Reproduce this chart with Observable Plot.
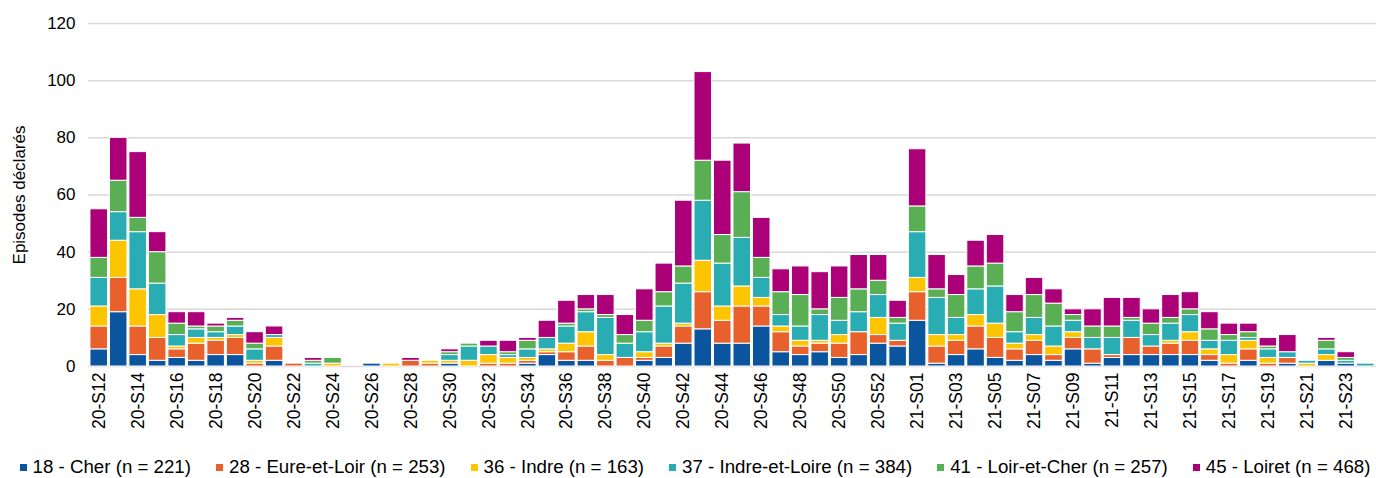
<!DOCTYPE html>
<html><head><meta charset="utf-8">
<script src="https://cdn.jsdelivr.net/npm/d3@7"></script>
<script src="https://cdn.jsdelivr.net/npm/@observablehq/plot@0.6"></script>
<style>
body{margin:0;background:#fff;font-family:"Liberation Sans",Arial,sans-serif;color:#000;overflow:hidden;}
#legend{display:flex;justify-content:center;align-items:center;height:38px;margin-top:8px;font-size:18.7px;white-space:nowrap;padding-left:14px;}
#legend .item{display:flex;align-items:center;margin:0 12.5px;}
#legend .sw{width:7px;height:7px;margin-right:6px;}
</style></head><body><div id="chart"></div><div id="legend"></div>
<script>
const weeks = ["20-S12","20-S13","20-S14","20-S15","20-S16","20-S17","20-S18","20-S19","20-S20","20-S21","20-S22","20-S23","20-S24","20-S25","20-S26","20-S27","20-S28","20-S29","20-S30","20-S31","20-S32","20-S33","20-S34","20-S35","20-S36","20-S37","20-S38","20-S39","20-S40","20-S41","20-S42","20-S43","20-S44","20-S45","20-S46","20-S47","20-S48","20-S49","20-S50","20-S51","20-S52","20-S53","21-S01","21-S02","21-S03","21-S04","21-S05","21-S06","21-S07","21-S08","21-S09","21-S10","21-S11","21-S12","21-S13","21-S14","21-S15","21-S16","21-S17","21-S18","21-S19","21-S20","21-S21","21-S22","21-S23","21-S24"];
const cher   = [6,19,4,2,3,2,4,4,0,2, 0,0,0,0,1,0,0,0,1,0, 0,0,1,4,2,2,0,0,2,3, 8,13,8,8,14,5,4,5,3,4, 8,7,16,1,4,6,3,2,4,2, 6,1,3,4,4,4,4,2,0,2, 0,1,0,2,1,0];
const eure   = [8,12,10,8,3,6,5,6,1,5, 1,0,0,0,0,0,2,1,0,0, 1,1,1,1,3,5,2,3,1,4, 6,13,8,13,7,7,3,3,5,8, 3,2,10,6,5,8,7,4,5,2, 4,5,1,6,3,4,5,2,1,4, 1,2,0,0,0,0];
const indre  = [7,13,13,8,1,2,1,1,1,3, 0,0,1,0,0,1,0,1,1,2, 3,2,1,1,3,5,2,0,2,1, 1,11,5,7,3,2,2,1,3,0, 6,0,5,4,2,4,5,2,2,3, 2,0,0,0,0,1,3,2,3,3, 2,0,1,2,0,0];
const ieloire= [10,10,20,11,4,3,2,3,4,1, 0,1,0,0,0,0,0,0,2,5, 3,1,3,4,6,7,13,5,7,13, 14,21,15,17,7,4,5,9,5,7, 8,6,16,13,6,9,13,4,6,7, 4,4,6,6,4,6,6,3,5,1, 3,2,1,2,1,1];
const lcher  = [7,11,5,11,4,1,2,2,2,0, 0,1,2,0,0,0,0,0,1,1, 0,1,3,0,1,1,1,3,4,5, 6,14,10,16,7,8,11,2,8,8, 5,2,9,3,8,8,8,7,8,8, 2,4,4,1,4,2,2,4,2,2, 1,0,0,3,1,0];
const loiret = [17,15,23,7,4,5,1,1,4,3, 0,1,0,0,0,0,1,0,1,0, 2,4,1,6,8,5,7,7,11,10, 23,31,26,17,14,8,10,13,11,12, 9,6,20,12,7,9,10,6,6,5, 2,6,10,7,5,8,6,6,4,3, 3,6,0,1,2,0];
const seriesNames = ["18 - Cher (n = 221)","28 - Eure-et-Loir (n = 253)","36 - Indre (n = 163)","37 - Indre-et-Loire (n = 384)","41 - Loir-et-Cher (n = 257)","45 - Loiret (n = 468)"];
const seriesColors = ["#0b559f","#e8612c","#fdc500","#2aacb3","#5aae53","#ab0077"];
const yTicks = [0,20,40,60,80,100,120];

const seriesValues = [cher, eure, indre, ieloire, lcher, loiret];
const data = [];
seriesValues.forEach((vals, s) => vals.forEach((v, i) => {
  if (v > 0) data.push({week: weeks[i], value: v, dept: seriesNames[s]});
}));

const plot = Plot.plot({
  width: 1376, height: 440,
  marginLeft: 88, marginRight: 0, marginTop: 23, marginBottom: 74,
  style: {fontFamily: "'Liberation Sans', Arial, sans-serif", fontSize: "17px", color: "#000", background: "white"},
  x: {type: "band", domain: weeks, padding: 0.1, label: null},
  y: {domain: [0, 120], label: null},
  color: {domain: seriesNames, range: seriesColors},
  marks: [
    Plot.ruleY(yTicks, {stroke: "#d9d9d9", strokeWidth: 1.5}),
    Plot.barY(data, {x: "week", y: "value", fill: "dept", stroke: "white", strokeWidth: 1}),
    Plot.axisX({ticks: weeks.filter((d, i) => i % 2 === 0), tickSize: 0, tickPadding: 6, tickRotate: -90, fontSize: 17.5, label: null}),
    Plot.axisY({ticks: yTicks, tickSize: 0, tickPadding: 13, fontSize: 17, label: "Episodes déclarés", labelAnchor: "center", labelArrow: "none", labelOffset: 76})
  ]
});
document.getElementById("chart").appendChild(plot);

const legend = document.getElementById("legend");
seriesNames.forEach((n, i) => {
  const it = document.createElement("div"); it.className = "item";
  const sw = document.createElement("span"); sw.className = "sw"; sw.style.background = seriesColors[i];
  const tx = document.createElement("span"); tx.textContent = n;
  it.appendChild(sw); it.appendChild(tx); legend.appendChild(it);
});
</script></body></html>
